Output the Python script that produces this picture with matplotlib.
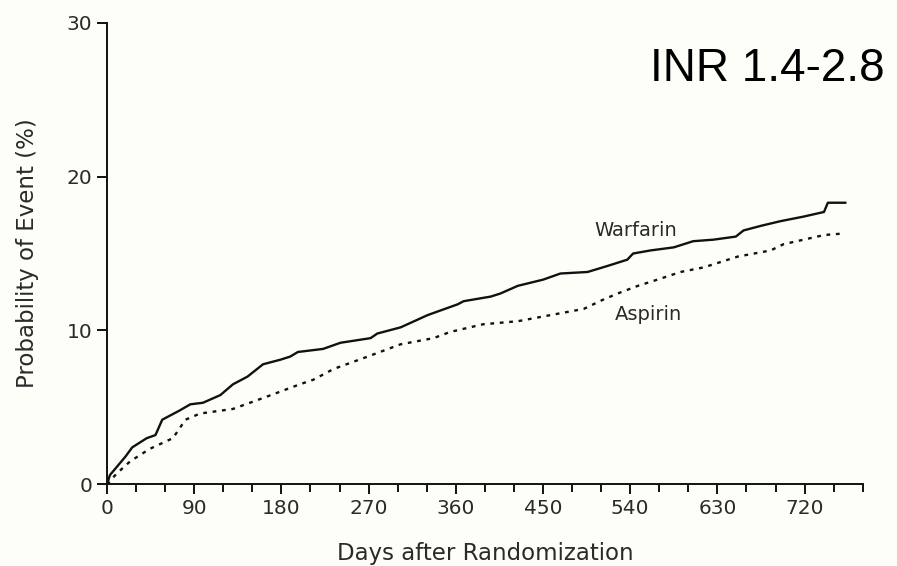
import matplotlib
matplotlib.use("Agg")
import matplotlib.pyplot as plt
from matplotlib.ticker import MultipleLocator

# Kaplan-Meier style curves (days, % with event)
warfarin_days = [0, 3, 19, 26, 41, 50, 57, 75, 86, 99, 117, 130, 145, 161, 179,
                 189, 197, 223, 241, 272, 279, 303, 331, 362, 368, 396, 406,
                 424, 450, 468, 496, 517, 537, 543, 561, 585, 605, 626, 649,
                 657, 675, 695, 719, 740, 744, 762]
warfarin_pct = [0.0, 0.6, 1.8, 2.4, 3.0, 3.2, 4.2, 4.8, 5.2, 5.3, 5.8, 6.5, 7.0,
                7.8, 8.1, 8.3, 8.6, 8.8, 9.2, 9.5, 9.8, 10.2, 11.0, 11.7, 11.9,
                12.2, 12.4, 12.9, 13.3, 13.7, 13.8, 14.2, 14.6, 15.0, 15.2,
                15.4, 15.8, 15.9, 16.1, 16.5, 16.8, 17.1, 17.4, 17.7, 18.3, 18.3]

aspirin_days = [0, 10, 24, 44, 68, 81, 96, 130, 165, 199, 213, 234, 269, 303,
                337, 354, 388, 424, 458, 492, 512, 527, 548, 568, 592, 616,
                651, 685, 698, 719, 740, 760]
aspirin_pct = [0.0, 0.7, 1.5, 2.3, 3.0, 4.2, 4.6, 4.9, 5.7, 6.5, 6.8, 7.5, 8.3,
               9.1, 9.5, 9.9, 10.4, 10.6, 11.0, 11.4, 12.0, 12.4, 12.9, 13.3,
               13.8, 14.1, 14.8, 15.2, 15.6, 15.9, 16.2, 16.3]

bg = "#fdfef8"
ink = "#2a2a2a"

fig = plt.figure(figsize=(8.97, 5.66), dpi=100, facecolor=bg)
ax = fig.add_axes([0.1193, 0.1443, 0.9618 - 0.1193, 0.8156])
ax.set_facecolor(bg)

ax.plot(warfarin_days, warfarin_pct, color="#111111", lw=1.7)
ax.plot(aspirin_days, aspirin_pct, color="#111111", lw=1.7,
        linestyle=(0, (1.6, 2.4)))

ax.set_xlim(0, 780)
ax.set_ylim(0, 30)
ax.xaxis.set_minor_locator(MultipleLocator(30))
ax.set_xticks(range(0, 721, 90))
ax.yaxis.set_major_locator(MultipleLocator(10))

for s in ["top", "right"]:
    ax.spines[s].set_visible(False)
for s in ["left", "bottom"]:
    ax.spines[s].set_linewidth(1.4)
    ax.spines[s].set_color("#111111")

ax.tick_params(which="major", direction="out", length=7.5, width=1.4,
               color="#111111", labelsize=14.5, labelcolor=ink, pad=3)
ax.tick_params(which="minor", direction="out", length=6, width=1.4,
               color="#111111")

ax.set_xlabel("Days after Randomization", fontsize=16.5, color=ink, labelpad=17)
ax.set_ylabel("Probability of Event (%)", fontsize=16.5, color=ink, labelpad=20)

ax.text(546, 16.5, "Warfarin", fontsize=14, color=ink, ha="center", va="center")
ax.text(559, 11.05, "Aspirin", fontsize=14, color=ink, ha="center", va="center")

fig.text(0.725, 0.878, "INR 1.4-2.8", fontsize=33, family="Liberation Sans",
         color="black", ha="left", va="center")

fig.savefig("out.png", dpi=100, facecolor=bg)
